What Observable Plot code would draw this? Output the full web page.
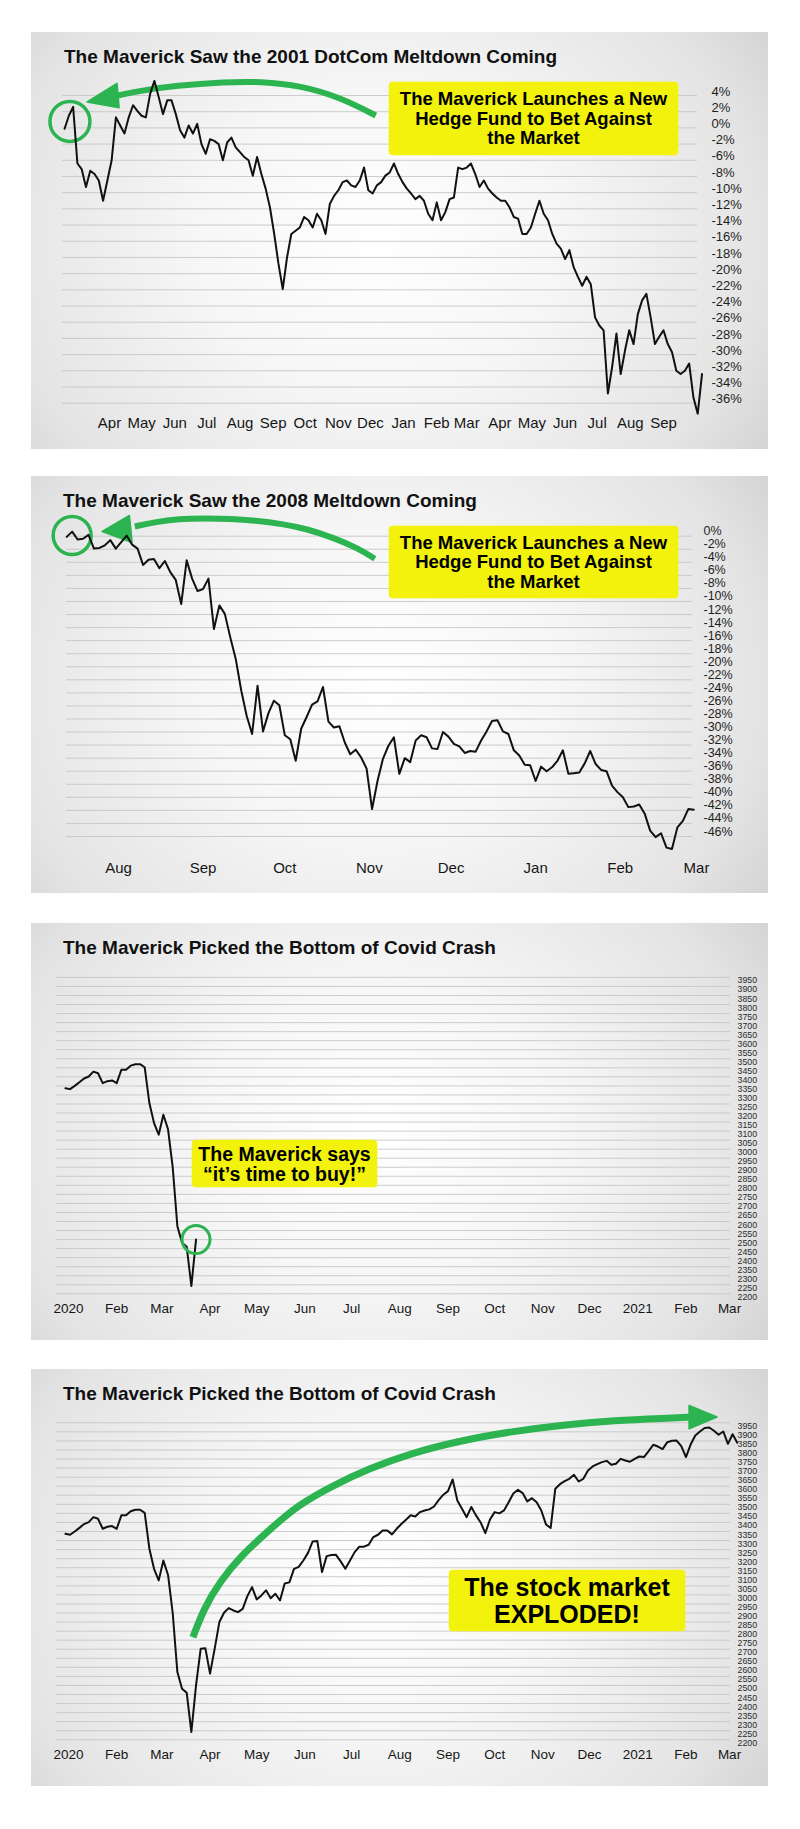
<!DOCTYPE html>
<html><head><meta charset="utf-8">
<script src="https://cdn.jsdelivr.net/npm/d3@7"></script>
<script src="https://cdn.jsdelivr.net/npm/@observablehq/plot@0.6"></script>
<style>
html,body{margin:0;padding:0;background:#fff;}
body{width:800px;height:1829px;position:relative;overflow:hidden;font-family:"Liberation Sans",Arial,sans-serif;}
.panel{position:absolute;left:31px;width:737px;height:417px;overflow:hidden;
 background:radial-gradient(ellipse 72% 105% at 47% 50%, #ffffff 0%, #f6f6f6 35%, #e4e4e4 72%, #c8c8c8 100%);}
.panel svg{position:absolute;left:0;top:0;}
.title{position:absolute;font-weight:700;font-size:19px;line-height:19px;color:#111;white-space:nowrap;z-index:2;}
.box{position:absolute;background:#f2f20c;border-radius:4px;color:#000;font-weight:700;text-align:center;display:flex;flex-direction:column;justify-content:center;box-shadow:0 0 2px #f2f20c;z-index:2;white-space:nowrap;}
</style></head><body>
<script>
// ---------------- DATA ----------------
// Panel 1: 2000-2001 dot-com meltdown (position on the % grid), every 4 days from 2000-02-19
const dotcomStart = "2000-02-19", dotcomStep = 4;
const dotcomValues = [-0.1, 1.5, 2.6, -4.4, -5.1, -7.3, -5.3, -5.7, -6.5, -9.0,
 -6.5, -4.0, 1.3, 0.3, -0.7, 1.3, 2.8, 2.1, 1.5, 1.3,
 4.2, 5.8, 3.8, 1.7, 3.4, 3.4, 1.7, -0.3, -1.2, 0.3,
 -0.7, 0.5, -2.0, -3.2, -1.4, -1.6, -2.0, -4.0, -1.8, -1.2,
 -2.4, -3.0, -3.6, -4.0, -5.9, -3.6, -5.7, -7.5, -9.8, -13.1,
 -16.8, -19.9, -16.0, -13.1, -12.7, -12.3, -11.0, -11.4, -12.3, -10.6,
 -11.4, -13.1, -9.4, -8.4, -7.7, -6.7, -6.5, -7.1, -7.3, -6.5,
 -4.9, -7.7, -8.1, -7.1, -6.7, -5.9, -5.5, -4.4, -5.7, -6.7,
 -7.5, -8.1, -8.8, -8.4, -9.0, -10.6, -11.4, -9.2, -11.4, -10.4,
 -8.8, -8.6, -4.9, -5.1, -4.9, -4.4, -5.7, -7.3, -6.5, -7.5,
 -8.1, -8.6, -9.0, -9.0, -9.8, -11.0, -11.2, -13.1, -13.1, -12.3,
 -10.6, -9.0, -10.6, -11.4, -13.1, -14.3, -14.9, -16.2, -15.1, -17.2,
 -18.4, -19.5, -18.4, -19.3, -23.4, -24.4, -25.0, -32.8, -29.5, -25.4,
 -30.4, -27.5, -25.0, -26.7, -23.0, -21.3, -20.5, -23.4, -26.7, -25.8,
 -25.0, -26.7, -27.7, -30.0, -30.4, -30.0, -29.1, -33.3, -35.3, -30.4];
const dotcomGrid = [4, 2, 0, -2, -4, -6, -8, -10, -12, -14, -16, -18, -20, -22, -24, -26, -28, -30, -32, -34];
const dotcomYLabels = ["4%", "2%", "0%", "-2%", "-6%", "-8%", "-10%", "-12%", "-14%", "-16%", "-18%", "-20%", "-22%", "-24%", "-26%", "-28%", "-30%", "-32%", "-34%", "-36%"];
const dotcomMonths = ["Apr", "May", "Jun", "Jul", "Aug", "Sep", "Oct", "Nov", "Dec", "Jan", "Feb", "Mar", "Apr", "May", "Jun", "Jul", "Aug", "Sep"];

// Panel 2: 2008 meltdown (%), every 2 days from 2008-07-13
const gfcStart = "2008-07-13", gfcStep = 2;
const gfcValues = [-0.1, 0.7, -0.5, -0.4, 0.2, -1.9, -1.8, -1.4, -0.6, -1.9,
 -0.9, 0.1, -1.3, -1.9, -4.4, -3.6, -3.5, -4.9, -3.8, -5.5,
 -6.7, -10.4, -3.7, -6.5, -8.4, -8.1, -6.5, -14.2, -10.6, -11.9,
 -15.5, -18.8, -23.6, -27.5, -30.3, -22.9, -29.9, -27.1, -25.2, -25.9,
 -30.5, -31.1, -34.4, -29.5, -27.7, -25.8, -25.3, -23.1, -28.4, -29.3,
 -29.1, -31.6, -33.4, -32.7, -33.9, -35.6, -41.8, -37.5, -34.1, -32.1,
 -30.8, -36.4, -34.0, -34.6, -31.3, -30.5, -30.8, -32.5, -32.6, -30.0,
 -30.7, -31.8, -32.2, -33.2, -32.9, -33.0, -31.3, -29.9, -28.3, -28.2,
 -29.9, -30.3, -32.8, -33.6, -35.0, -35.1, -37.5, -35.3, -36.0, -35.4,
 -34.4, -32.8, -36.4, -36.3, -36.2, -34.8, -32.9, -34.9, -35.8, -36.0,
 -38.2, -39.2, -40.0, -41.5, -41.4, -41.1, -42.5, -45.1, -46.1, -45.5,
 -47.7, -47.9, -44.6, -43.6, -41.8, -41.9];
const gfcGrid = [0, -2, -4, -6, -8, -10, -12, -14, -16, -18, -20, -22, -24, -26, -28, -30, -32, -34, -36, -38, -40, -42, -44, -46];
const gfcYLabels = ["0%", "-2%", "-4%", "-6%", "-8%", "-10%", "-12%", "-14%", "-16%", "-18%", "-20%", "-22%", "-24%", "-26%", "-28%", "-30%", "-32%", "-34%", "-36%", "-38%", "-40%", "-42%", "-44%", "-46%"];
const gfcMonths = ["Aug", "Sep", "Oct", "Nov", "Dec", "Jan", "Feb", "Mar"];

// Panels 3 & 4: S&P 500 2020-2021, every 3 days from 2019-12-30
const covidStart = "2019-12-30", covidStep = 3;
const covidValues = [3337, 3332, 3350, 3370, 3391, 3402, 3429, 3420, 3365, 3376,
 3380, 3365, 3439, 3439, 3462, 3470, 3470, 3453, 3255, 3144,
 3080, 3190, 3110, 2900, 2574, 2482, 2460, 2243, 2500, 2703,
 2706, 2565, 2703, 2850, 2901, 2927, 2914, 2905, 2923, 2993,
 3043, 2975, 2997, 3025, 2982, 3006, 2969, 3063, 3069, 3144,
 3155, 3190, 3232, 3295, 3297, 3126, 3214, 3220, 3221, 3185,
 3144, 3190, 3236, 3266, 3266, 3277, 3319, 3332, 3356, 3356,
 3334, 3365, 3391, 3415, 3440, 3433, 3457, 3466, 3472, 3488,
 3523, 3553, 3573, 3637, 3521, 3475, 3429, 3485, 3439, 3400,
 3341, 3416, 3457, 3450, 3466, 3512, 3560, 3580, 3562, 3516,
 3534, 3512, 3466, 3389, 3369, 3586, 3611, 3628, 3641, 3663,
 3626, 3641, 3687, 3709, 3722, 3733, 3740, 3718, 3724, 3751,
 3742, 3735, 3751, 3764, 3761, 3794, 3829, 3819, 3805, 3843,
 3851, 3852, 3821, 3761, 3830, 3880, 3902, 3921, 3924, 3906,
 3884, 3902, 3834, 3887, 3840];
const buyDate = "2020-03-23";
const covidTicks = [3950, 3900, 3850, 3800, 3750, 3700, 3650, 3600, 3550, 3500, 3450, 3400, 3350, 3300, 3250, 3200, 3150, 3100, 3050, 3000, 2950, 2900, 2850, 2800, 2750, 2700, 2650, 2600, 2550, 2500, 2450, 2400, 2350, 2300, 2250, 2200];
const covidMonths = ["2020", "Feb", "Mar", "Apr", "May", "Jun", "Jul", "Aug", "Sep", "Oct", "Nov", "Dec", "2021", "Feb", "Mar"];

// Annotations (in data coordinates)
const dotcomCircle = [{date: "2000-02-24", value: 0.8}];
const dotcomArrow = [{date: "2000-12-06", value: 1.53}, {date: "2000-11-03", value: 3.75}, {date: "2000-09-27", value: 5.23},
 {date: "2000-08-20", value: 5.73}, {date: "2000-07-18", value: 5.67}, {date: "2000-06-02", value: 5.23},
 {date: "2000-04-30", value: 4.6}, {date: "2000-04-09", value: 4.0}];
const dotcomHead = [{date: "2000-03-11", value: 3.2}, {date: "2000-04-08", value: 5.5}, {date: "2000-04-10", value: 2.5}];

const gfcCircle = [{date: "2008-07-15", value: 0.1}];
const gfcArrow = [{date: "2008-11-03", value: -3.46}, {date: "2008-10-28", value: -1.88}, {date: "2008-10-19", value: -0.25},
 {date: "2008-10-09", value: 1.13}, {date: "2008-09-30", value: 1.9}, {date: "2008-09-20", value: 2.4},
 {date: "2008-09-11", value: 2.67}, {date: "2008-09-02", value: 2.76}, {date: "2008-08-23", value: 2.67},
 {date: "2008-08-14", value: 2.14}, {date: "2008-08-07", value: 1.49}];
const gfcHead = [{date: "2008-07-26", value: 0.72}, {date: "2008-08-05", value: 3.17}, {date: "2008-08-06", value: -0.97}];

const rallyArrow = [{date: "2020-03-21", value: 2766}, {date: "2020-03-28", value: 2923}, {date: "2020-04-07", value: 3070},
 {date: "2020-04-21", value: 3217}, {date: "2020-05-10", value: 3365}, {date: "2020-05-27", value: 3493},
 {date: "2020-06-19", value: 3604}, {date: "2020-07-12", value: 3696}, {date: "2020-08-07", value: 3779},
 {date: "2020-09-09", value: 3852}, {date: "2020-10-12", value: 3902}, {date: "2020-11-14", value: 3939},
 {date: "2020-12-17", value: 3963}, {date: "2021-01-19", value: 3975}, {date: "2021-02-05", value: 3981}];
const rallyHead = [{date: "2021-02-21", value: 3982}, {date: "2021-02-03", value: 4046}, {date: "2021-02-03", value: 3917}];

// ---------------- BUILD ----------------
const GREEN = "#2cb450";
const FONT = '"Liberation Sans", Arial, sans-serif';
function series(start, step, values) {
  const s = new Date(start);
  return values.map((v, i) => ({date: d3.utcDay.offset(s, i * step), value: v}));
}
const parse = arr => arr.map(d => ({date: new Date(d.date), value: d.value}));

const dotcom = series(dotcomStart, dotcomStep, dotcomValues);
const gfc = series(gfcStart, gfcStep, gfcValues);
const covid = series(covidStart, covidStep, covidValues);
const covidToBuy = covid.filter(d => d.date <= new Date(buyDate));

function chart(o) {
  const yMap = new Map(o.yTicks.map((t, i) => [t, o.yLabels[i]]));
  const xMap = new Map(o.xTicks.map((t, i) => [+t, o.xLabels[i]]));
  return Plot.plot({
    width: 737, height: 417,
    marginLeft: o.grid0, marginRight: 737 - o.grid1, marginTop: 20, marginBottom: 417 - o.axisAt,
    style: {background: "transparent", fontFamily: FONT, color: "#1a1a1a", overflow: "visible"},
    x: {type: "utc", domain: o.xDomain.map(d => new Date(d)), range: o.xRange},
    y: {type: "linear", domain: o.yDomain, range: o.yRange},
    marks: [
      Plot.gridY(o.yTicks, {stroke: "#c4c4c4", strokeOpacity: 0.85, strokeWidth: 1}),
      Plot.axisY(o.yTicks, {anchor: "right", tickSize: 0, tickPadding: o.yPad, dy: o.yDy, fontSize: o.yFont,
        tickFormat: d => yMap.get(d), label: null, color: o.yColor}),
      Plot.axisX(o.xTicks, {anchor: "bottom", tickSize: 0, tickPadding: o.xPad, fontSize: o.xFont,
        tickFormat: d => xMap.get(+d), label: null, color: "#161616"}),
      ...o.marks
    ]
  });
}

function panel(top, titleText, titleLeft, svg, box) {
  const p = document.createElement("div");
  p.className = "panel";
  p.style.top = top + "px";
  p.appendChild(svg);
  const t = document.createElement("div");
  t.className = "title";
  t.style.left = titleLeft + "px";
  t.style.top = "15px";
  t.textContent = titleText;
  p.appendChild(t);
  const b = document.createElement("div");
  b.className = "box";
  Object.assign(b.style, {left: box.left + "px", top: box.top + "px", width: box.width + "px", height: box.height + "px",
    fontSize: box.size + "px", lineHeight: box.lh + "px", letterSpacing: box.ls || "0px"});
  box.lines.forEach(l => { const s = document.createElement("div"); s.textContent = l; b.appendChild(s); });
  p.appendChild(b);
  document.body.appendChild(p);
}

const arrowMarks = (path, head, w) => [
  Plot.line(parse(path), {x: "date", y: "value", curve: "basis", stroke: GREEN, strokeWidth: w, strokeLinecap: "butt"}),
  Plot.line(parse(head), {x: "date", y: "value", curve: "linear-closed", fill: GREEN, stroke: GREEN, strokeWidth: 1.5, strokeLinejoin: "round"})
];

// Panel 1
panel(32, "The Maverick Saw the 2001 DotCom Meltdown Coming", 33, chart({
  grid0: 31, grid1: 666, axisAt: 372,
  xDomain: ["2000-04-01", "2001-09-01"], xRange: [78, 632],
  yDomain: [4, -34], yRange: [63, 370.7],
  yTicks: dotcomGrid, yLabels: dotcomYLabels, yPad: 14, yDy: -4, yFont: 13, yColor: "#1e1e1e",
  xTicks: d3.utcMonth.range(new Date("2000-04-01"), new Date("2001-10-01")), xLabels: dotcomMonths, xPad: 12.4, xFont: 15,
  marks: [
    ...arrowMarks(dotcomArrow, dotcomHead, 6),
    Plot.dot(parse(dotcomCircle), {x: "date", y: "value", r: 20, stroke: GREEN, strokeWidth: 3.5, fill: "none"}),
    Plot.line(dotcom, {x: "date", y: "value", stroke: "#111", strokeWidth: 2})
  ]
}), {left: 358, top: 50, width: 289, height: 73, size: 18.5, lh: 19.5,
  lines: ["The Maverick Launches a New", "Hedge Fund to Bet Against", "the Market"]});

// Panel 2
panel(476, "The Maverick Saw the 2008 Meltdown Coming", 32, chart({
  grid0: 35, grid1: 661, axisAt: 372,
  xDomain: ["2008-08-01", "2009-03-01"], xRange: [87, 665],
  yDomain: [0, -46], yRange: [59.7, 360],
  yTicks: gfcGrid, yLabels: gfcYLabels, yPad: 11, yDy: -5, yFont: 12.5, yColor: "#1e1e1e",
  xTicks: d3.utcMonth.range(new Date("2008-08-01"), new Date("2009-04-01")), xLabels: gfcMonths, xPad: 13.4, xFont: 15,
  marks: [
    ...arrowMarks(gfcArrow, gfcHead, 6),
    Plot.dot(parse(gfcCircle), {x: "date", y: "value", r: 19, stroke: GREEN, strokeWidth: 3.5, fill: "none"}),
    Plot.line(gfc, {x: "date", y: "value", stroke: "#111", strokeWidth: 2})
  ]
}), {left: 358, top: 50, width: 289, height: 72, size: 18.5, lh: 19.5,
  lines: ["The Maverick Launches a New", "Hedge Fund to Bet Against", "the Market"]});

// Panel 3
const buyPoint = covidToBuy[covidToBuy.length - 1];
panel(923, "The Maverick Picked the Bottom of Covid Crash", 32, chart({
  grid0: 25, grid1: 699, axisAt: 372,
  xDomain: ["2020-01-01", "2021-03-01"], xRange: [37, 698],
  yDomain: [3950, 2200], yRange: [53.9, 370.3],
  yTicks: covidTicks, yLabels: covidTicks.map(String), yPad: 7, yDy: 3.2, yFont: 8.8, yColor: "#2a2a2a",
  xTicks: d3.utcMonth.range(new Date("2020-01-01"), new Date("2021-04-01")), xLabels: covidMonths, xPad: 7.5, xFont: 13.5,
  marks: [
    Plot.line(covidToBuy, {x: "date", y: "value", stroke: "#111", strokeWidth: 2}),
    Plot.dot([buyPoint], {x: "date", y: "value", r: 14, stroke: GREEN, strokeWidth: 3, fill: "none"})
  ]
}), {left: 161, top: 217, width: 185, height: 47, size: 19.5, lh: 20,
  lines: ["The Maverick says", "\u201Cit\u2019s time to buy!\u201D"]});

// Panel 4
panel(1369, "The Maverick Picked the Bottom of Covid Crash", 32, chart({
  grid0: 25, grid1: 699, axisAt: 372,
  xDomain: ["2020-01-01", "2021-03-01"], xRange: [37, 698],
  yDomain: [3950, 2200], yRange: [53.3, 370.3],
  yTicks: covidTicks, yLabels: covidTicks.map(String), yPad: 7, yDy: 3.2, yFont: 8.8, yColor: "#2a2a2a",
  xTicks: d3.utcMonth.range(new Date("2020-01-01"), new Date("2021-04-01")), xLabels: covidMonths, xPad: 8.2, xFont: 13.5,
  marks: [
    ...arrowMarks(rallyArrow, rallyHead, 7),
    Plot.line(covid, {x: "date", y: "value", stroke: "#111", strokeWidth: 2})
  ]
}), {left: 418, top: 201, width: 236, height: 61, size: 25, lh: 27,
  lines: ["The stock market", "EXPLODED!"]});
</script>
</body></html>
